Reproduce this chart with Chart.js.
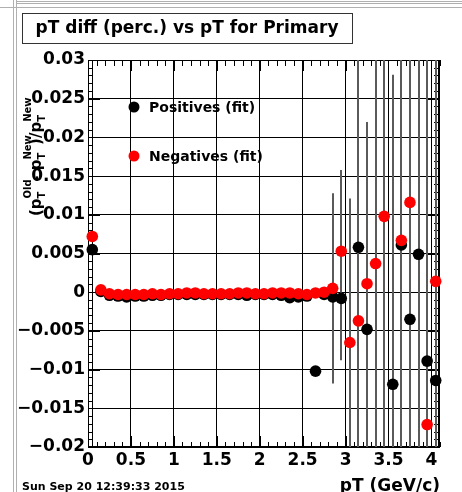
<!DOCTYPE html>
<html>
<head>
<meta charset="utf-8">
<script src="https://cdn.jsdelivr.net/npm/chart.js@4.4.0/dist/chart.umd.min.js"></script>
<style>
  html, body { margin: 0; padding: 0; background: #fff; }
  #wrap { width: 462px; height: 492px; position: relative; }
</style>
</head>
<body>
<div id="wrap"><canvas id="c" width="462" height="492"></canvas></div>
<script>
// pT bin centres (GeV/c)
const ptBins = [0.05, 0.15, 0.25, 0.35, 0.45, 0.55, 0.65, 0.75, 0.85, 0.95,
  1.05, 1.15, 1.25, 1.35, 1.45, 1.55, 1.65, 1.75, 1.85, 1.95,
  2.05, 2.15, 2.25, 2.35, 2.45, 2.55, 2.65, 2.75, 2.85, 2.95,
  3.05, 3.15, 3.25, 3.35, 3.45, 3.55, 3.65, 3.75, 3.85, 3.95, 4.05];

// Positives (fit)
const posValues = [0.0055, 0.0001, -0.0004, -0.0005, -0.0006, -0.0005, -0.0005, -0.0004, -0.0004, -0.0003,
  -0.0003, -0.0003, -0.0003, -0.0003, -0.0003, -0.0003, -0.0003, -0.0003, -0.0004, -0.0003,
  -0.0003, -0.0003, -0.0004, -0.0007, -0.0006, -0.0005, -0.0102, -0.0003, -0.0006, -0.0008,
  null, 0.0058, -0.0048, null, null, -0.0119, 0.0061, -0.0035, 0.0049, -0.0089, -0.0114];
const posErrors = [0, 0, 0, 0, 0, 0, 0, 0, 0, 0,
  0, 0, 0, 0, 0, 0, 0, 0, 0, 0,
  0, 0, 0, 0, 0, 0, 0, 0, 0.001, 0.008,
  null, 0.04, 0.02, null, null, 0.04, 0.04, 0.04, 0.04, 0.04, 0.04];

// Negatives (fit)
const negValues = [0.0072, 0.0003, -0.0002, -0.0003, -0.0003, -0.0003, -0.0003, -0.0002, -0.0003, -0.0002,
  -0.0002, -0.0001, -0.0001, -0.0002, -0.0002, -0.0002, -0.0002, -0.0001, -0.0001, -0.0002,
  -0.0002, -0.0001, -0.0001, -0.0001, -0.0002, -0.0003, -0.0001, 0.0000, 0.0005, 0.0053,
  -0.0065, -0.0037, 0.0011, 0.0037, 0.0098, null, 0.0067, 0.0116, null, -0.0171, 0.0014];
const negErrors = [0, 0, 0, 0, 0, 0, 0, 0, 0, 0,
  0, 0, 0, 0, 0, 0, 0, 0, 0, 0,
  0, 0, 0, 0, 0, 0, 0, 0, 0.0123, 0.0105,
  0.0186, 0.04, 0.0209, 0.04, 0.04, null, 0.04, 0.04, null, 0.04, 0.04];

const xTickValues = [0, 0.5, 1, 1.5, 2, 2.5, 3, 3.5, 4];
const xTickLabels = ['0', '0.5', '1', '1.5', '2', '2.5', '3', '3.5', '4'];
const yTickValues = [-0.02, -0.015, -0.01, -0.005, 0, 0.005, 0.01, 0.015, 0.02, 0.025, 0.03];
const yTickLabels = ['\u22120.02', '\u22120.015', '\u22120.01', '\u22120.005', '0', '0.005', '0.01', '0.015', '0.02', '0.025', '0.03'];

const titleText = 'pT diff (perc.) vs pT for Primary';
const xTitle = 'pT (GeV/c)';
const dateText = 'Sun Sep 20 12:39:33 2015';

const FONT = '"DejaVu Sans", sans-serif';

function toPoints(vals) {
  const out = [];
  vals.forEach((v, i) => { if (v !== null) out.push({ x: ptBins[i], y: v }); });
  return out;
}
function toErrors(vals, errs) {
  const out = [];
  vals.forEach((v, i) => { if (v !== null && errs[i]) out.push({ x: ptBins[i], y: v, e: errs[i] }); });
  return out;
}

const rootDecor = {
  id: 'rootDecor',
  beforeDraw(chart) {
    const ctx = chart.ctx;
    ctx.save();
    // window borders
    ctx.strokeStyle = '#b0b0b0';
    ctx.lineWidth = 1;
    ctx.beginPath();
    ctx.moveTo(13.5, 0); ctx.lineTo(13.5, 492);
    ctx.moveTo(16.5, 0); ctx.lineTo(16.5, 492);
    ctx.moveTo(16, 1.5); ctx.lineTo(462, 1.5);
    ctx.moveTo(16, 3.5); ctx.lineTo(462, 3.5);
    ctx.moveTo(0, 7.5); ctx.lineTo(462, 7.5);
    ctx.stroke();
    // title box
    ctx.strokeStyle = '#333';
    ctx.strokeRect(22.5, 13.5, 330, 30);
    ctx.fillStyle = '#000';
    ctx.font = 'bold 17px ' + FONT;
    ctx.textAlign = 'center';
    ctx.textBaseline = 'middle';
    ctx.fillText(titleText, 187, 29);
    // date + x title
    ctx.textAlign = 'left';
    ctx.textBaseline = 'alphabetic';
    ctx.font = 'bold 11px ' + FONT;
    ctx.fillText(dateText, 22, 490);
    ctx.textAlign = 'right';
    ctx.font = 'bold 17px ' + FONT;
    ctx.fillText(xTitle, 440, 491);
    // y title: (p_T^Old - p_T^New)/p_T^New
    ctx.translate(41, 216);
    ctx.rotate(-Math.PI / 2);
    ctx.textAlign = 'left';
    let cx = 0;
    const parts = [['(p', 'T', 'Old'], [' - p', 'T', 'New'], [')/p', 'T', 'New']];
    parts.forEach(p => {
      ctx.font = 'bold 15px ' + FONT;
      ctx.fillText(p[0], cx, 0);
      cx += ctx.measureText(p[0]).width;
      ctx.font = 'bold 10px ' + FONT;
      ctx.fillText(p[1], cx, 4);
      ctx.fillText(p[2], cx, -10);
      cx += Math.max(ctx.measureText(p[1]).width, ctx.measureText(p[2]).width) * 0.6;
    });
    ctx.restore();
  },
  beforeDatasetsDraw(chart) {
    const ctx = chart.ctx;
    const a = chart.chartArea;
    const xs = chart.scales.x, ys = chart.scales.y;
    ctx.save();
    ctx.strokeStyle = '#000';
    ctx.lineWidth = 1;
    ctx.beginPath();
    // frame
    ctx.rect(a.left + 0.5, a.top + 0.5, a.right - a.left - 1, a.bottom - a.top - 1);
    ctx.moveTo(a.left + 4.5, a.top); ctx.lineTo(a.left + 4.5, a.bottom);
    // y ticks (left and right)
    for (let k = -20; k <= 30; k++) {
      const py = Math.round(ys.getPixelForValue(k / 1000)) + 0.5;
      const major = k % 5 === 0;
      ctx.moveTo(a.left, py); ctx.lineTo(a.left + (major ? 12 : 4), py);
      ctx.moveTo(a.right, py); ctx.lineTo(a.right - (major ? 12 : 6), py);
    }
    // x ticks (bottom and top)
    for (let k = 0; k <= 41; k++) {
      const px = Math.round(xs.getPixelForValue(k / 10)) + 0.5;
      const major = k % 5 === 0;
      ctx.moveTo(px, a.bottom); ctx.lineTo(px, a.bottom - (major ? 11 : 5));
      ctx.moveTo(px, a.top); ctx.lineTo(px, a.top + (major ? 11 : 6));
    }
    ctx.stroke();
    ctx.lineWidth = 2;
    ctx.beginPath();
    ctx.moveTo(a.right - 1, a.top); ctx.lineTo(a.right - 1, a.bottom);
    ctx.stroke();
    // error bars
    ctx.beginPath();
    ctx.rect(a.left, a.top, a.right - a.left, a.bottom - a.top);
    ctx.clip();
    ctx.strokeStyle = '#5a5a5a';
    ctx.lineWidth = 2;
    chart.data.datasets.forEach(ds => {
      ctx.beginPath();
      ds.errors.forEach(p => {
        const px = Math.round(xs.getPixelForValue(p.x));
        ctx.moveTo(px, ys.getPixelForValue(p.y + p.e));
        ctx.lineTo(px, ys.getPixelForValue(p.y - p.e));
      });
      ctx.stroke();
    });
    ctx.restore();
  },
  afterDraw(chart) {
    const ctx = chart.ctx;
    ctx.save();
    ctx.font = 'bold 14px ' + FONT;
    ctx.textBaseline = 'middle';
    ctx.textAlign = 'left';
    const rows = [[107, 0], [156, 1]];
    rows.forEach(r => {
      const ds = chart.data.datasets[r[1]];
      ctx.fillStyle = ds.backgroundColor;
      ctx.beginPath();
      ctx.arc(134, r[0], 5.5, 0, Math.PI * 2);
      ctx.fill();
      ctx.fillStyle = '#000';
      ctx.fillText(ds.label, 149, r[0] + 1);
    });
    ctx.restore();
  }
};

new Chart(document.getElementById('c'), {
  type: 'scatter',
  data: {
    datasets: [
      { label: 'Positives (fit)', data: toPoints(posValues), errors: toErrors(posValues, posErrors), order: 2,
        backgroundColor: '#000', borderColor: '#000', pointRadius: 5.8, borderWidth: 0, clip: false },
      { label: 'Negatives (fit)', data: toPoints(negValues), errors: toErrors(negValues, negErrors), order: 1,
        backgroundColor: '#ff0000', borderColor: '#ff0000', pointRadius: 5.8, borderWidth: 0, clip: false }
    ]
  },
  options: {
    responsive: false,
    animation: false,
    devicePixelRatio: 1,
    layout: { padding: { top: 60, right: 22, left: 0, bottom: 0 } },
    plugins: { legend: { display: false }, tooltip: { enabled: false }, title: { display: false } },
    scales: {
      x: {
        type: 'linear', min: 0, max: 4.1,
        afterBuildTicks: s => { s.ticks = xTickValues.map(v => ({ value: v })); },
        afterFit: s => { s.height = 45; },
        ticks: { callback: (v, i) => xTickLabels[i], color: '#000', padding: 3, maxRotation: 0,
          autoSkip: false, font: { family: FONT, weight: 'bold', size: 17 } },
        grid: { color: '#000', lineWidth: 1, borderDash: [1, 2], drawTicks: false },
        border: { display: false }
      },
      y: {
        type: 'linear', min: -0.02, max: 0.03,
        afterBuildTicks: s => { s.ticks = yTickValues.map(v => ({ value: v })); },
        afterFit: s => { s.width = 88; },
        ticks: { callback: (v, i) => yTickLabels[i], color: '#000', padding: 3,
          autoSkip: false, font: { family: FONT, weight: 'bold', size: 17 } },
        grid: { color: '#000', lineWidth: 1, borderDash: [1, 2], drawTicks: false },
        border: { display: false }
      }
    }
  },
  plugins: [rootDecor]
});
</script>
</body>
</html>
